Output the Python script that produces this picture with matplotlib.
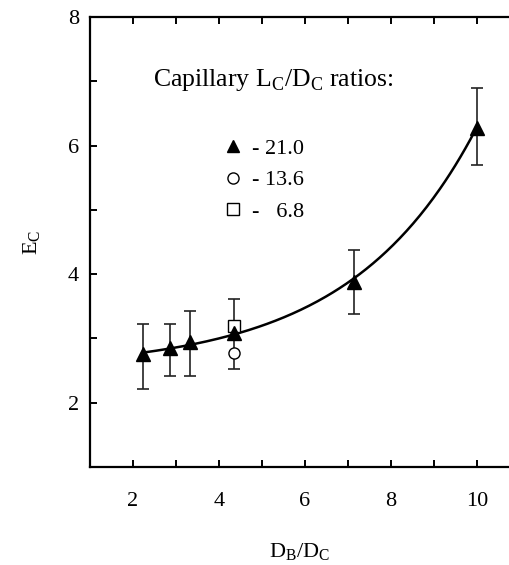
import numpy as np
import matplotlib.pyplot as plt
from matplotlib.lines import Line2D

plt.rcParams['font.family'] = ['Liberation Serif', 'DejaVu Serif']
plt.rcParams['mathtext.fontset'] = 'custom'
plt.rcParams['mathtext.rm'] = 'Liberation Serif'

# L/D = 21.0 (filled triangles)
x_tri = [2.23, 2.87, 3.33, 4.36, 7.14, 10.0]
y_tri = [2.75, 2.85, 2.94, 3.09, 3.88, 6.28]
err_lo = [2.22, 2.42, 2.42, 2.53, 3.38, 5.69]
err_hi = [3.22, 3.22, 3.42, 3.62, 4.38, 6.89]
# L/D = 13.6 (open circle), 6.8 (open square)
x_circ, y_circ = [4.36], [2.78]
x_sq, y_sq = [4.36], [3.19]

labels = ['- 21.0', '- 13.6', '-   6.8']


def fit_exp(x, y):
    # y = a + b*exp(c*x), grid search on a
    x = np.asarray(x); y = np.asarray(y)
    best = None
    for a in np.linspace(0, min(y) - 0.01, 400):
        c, lnb = np.polyfit(x, np.log(y - a), 1)
        res = np.sum((a + np.exp(lnb) * np.exp(c * x) - y) ** 2)
        if best is None or res < best[0]:
            best = (res, a, np.exp(lnb), c)
    return best[1:]


fig = plt.figure(figsize=(5.1, 5.65), dpi=100)
# the original figure is cropped on the right, so the axes run to the edge
ax = fig.add_axes([90 / 510, 98 / 565, 420 / 510, 450 / 565])

a, b, c = fit_exp(x_tri, y_tri)
xs = np.linspace(x_tri[0], x_tri[-1], 200)
ax.plot(xs, a + b * np.exp(c * xs), color='black', lw=1.8, zorder=2)

yerr = [np.array(y_tri) - np.array(err_lo), np.array(err_hi) - np.array(y_tri)]
ax.errorbar(x_tri, y_tri, yerr=yerr, fmt='none', ecolor='#222222',
            elinewidth=1.2, capsize=4.5, capthick=1.2, zorder=1)
ax.plot(x_sq, y_sq, 's', ms=8, mfc='white', mec='black', mew=1.0, zorder=3)
ax.plot(x_circ, y_circ, 'o', ms=8, mfc='white', mec='black', mew=1.0, zorder=3)
ax.plot(x_tri, y_tri, '^', ms=10, color='black', zorder=4)

ax.set_xlim(1, 1 + 420 / 43)
ax.set_ylim(1, 8)
ax.set_xticks(range(1, 11))
ax.set_xticklabels(['', '2', '', '4', '', '6', '', '8', '', '10'])
ax.set_yticks(range(1, 9))
ax.set_yticklabels(['', '2', '', '4', '', '6', '', '8'])
ax.tick_params(direction='in', length=5, width=1.4, labelsize=16,
               top=True, right=False)
ax.tick_params(axis='x', pad=18)
ax.tick_params(axis='y', pad=8)
ax.spines['right'].set_visible(False)
for s in ax.spines.values():
    s.set_linewidth(1.6)

ax.set_xlabel(r'D$_\mathregular{B}$/D$_\mathregular{C}$', fontsize=16, labelpad=22)
ax.set_ylabel(r'E$_\mathregular{C}$', fontsize=16, labelpad=18)

ax.text(0.151, 0.86, r'Capillary L$_\mathregular{C}$/D$_\mathregular{C}$ ratios:',
        transform=ax.transAxes, fontsize=18.5, ha='left', va='center')

handles = [
    Line2D([], [], ls='none', marker='^', ms=9, color='black'),
    Line2D([], [], ls='none', marker='o', ms=8, mfc='white', mec='black'),
    Line2D([], [], ls='none', marker='s', ms=8, mfc='white', mec='black'),
]
ax.legend(handles, labels, loc='upper left', bbox_to_anchor=(0.272, 0.775),
          frameon=False, fontsize=16, handlelength=0.8, handletextpad=0.45,
          labelspacing=0.5)

fig.savefig('out.png', dpi=100)
